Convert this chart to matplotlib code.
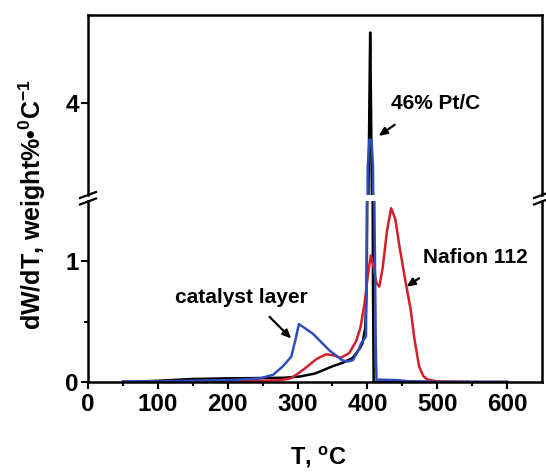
import matplotlib
matplotlib.use("Agg")
import matplotlib.pyplot as plt
from matplotlib.lines import Line2D
from matplotlib.ticker import FixedLocator

plt.rcParams["font.family"] = ["Liberation Sans", "DejaVu Sans"]
plt.rcParams["font.weight"] = "bold"
plt.rcParams["mathtext.fontset"] = "custom"
plt.rcParams["mathtext.rm"] = "Liberation Sans:bold"
plt.rcParams["mathtext.bf"] = "Liberation Sans:bold"
plt.rcParams["mathtext.default"] = "rm"

# --- data (T in degC, dW/dT in weight%/degC) ---
pt_T = [50, 100, 150, 200, 250, 280, 303, 325, 350, 365, 379, 388, 393, 397, 399,
        401, 403, 404, 405, 407, 408, 409, 420, 450, 500, 550, 600]
pt_v = [0.0, 0.01, 0.025, 0.03, 0.033, 0.035, 0.045, 0.07, 0.13, 0.16, 0.2, 0.27, 0.32,
        0.45, 0.8, 2.6, 4.1, 4.76, 4.1, 2.6, 0.8, 0.0, 0.005, 0.005, 0.0, 0.0, 0.0]

cl_T = [50, 100, 150, 200, 246, 265, 279, 291, 297, 302, 322, 346, 364, 372, 379, 386,
        391, 396, 398, 399, 400.5, 403, 406, 408, 410, 412, 413, 445, 460, 500, 550, 600]
cl_v = [0.005, 0.005, 0.01, 0.015, 0.03, 0.06, 0.13, 0.21, 0.35, 0.48, 0.40, 0.26, 0.18,
        0.17, 0.18, 0.25, 0.32, 0.36, 0.38, 1.0, 3.3, 3.6, 3.6, 3.3, 1.5, 0.3, 0.02,
        0.015, 0.005, 0.0, 0.0, 0.0]

nf_T = [50, 150, 200, 250, 274, 290, 298, 310, 327, 341, 352, 362, 374, 384, 390, 396,
        401, 405, 409, 413, 417, 422, 428, 434, 440, 446, 455, 462, 467, 474, 480, 486,
        500, 550, 600]
nf_v = [0.0, 0.005, 0.01, 0.01, 0.015, 0.03, 0.06, 0.11, 0.19, 0.23, 0.22, 0.2, 0.24,
        0.34, 0.45, 0.65, 0.9, 1.05, 0.95, 0.82, 0.79, 0.95, 1.25, 1.44, 1.35, 1.12, 0.82,
        0.6, 0.37, 0.13, 0.05, 0.02, 0.005, 0.0, 0.0]

x_ticks = [0, 100, 200, 300, 400, 500, 600]

BLUE = "#2d4fbe"
RED = "#d21f2a"

fig = plt.figure(figsize=(5.46, 4.72), dpi=100)
W, H = 546.0, 472.0
left, right = 88 / W, 542 / W
ax_lo = fig.add_axes([left, 1 - 382 / H, right - left, (382 - 201) / H])
ax_hi = fig.add_axes([left, 1 - 195 / H, right - left, (195 - 15) / H], sharex=ax_lo)

for ax in (ax_lo, ax_hi):
    ax.plot(pt_T, pt_v, color="black", lw=1.8)
    ax.plot(nf_T, nf_v, color=RED, lw=1.8)
    ax.plot(cl_T, cl_v, color=BLUE, lw=1.8)
    for s in ax.spines.values():
        s.set_linewidth(1.8)

ax_lo.set_xlim(0, 650)
ax_lo.set_ylim(0, 1.5)
ax_hi.set_ylim(3.0, 4.95)

ax_lo.spines["top"].set_visible(False)
ax_hi.spines["bottom"].set_visible(False)

ax_lo.xaxis.set_major_locator(FixedLocator(x_ticks))
ax_lo.xaxis.set_minor_locator(FixedLocator([50, 150, 250, 350, 450, 550]))
ax_lo.yaxis.set_major_locator(FixedLocator([0, 1]))
ax_lo.yaxis.set_minor_locator(FixedLocator([0.5]))
ax_hi.yaxis.set_major_locator(FixedLocator([4]))

ax_lo.tick_params(axis="both", which="major", direction="out", length=5, width=1.5,
                  labelsize=17.5, top=False, right=False)
ax_lo.tick_params(axis="x", which="major", pad=3)
ax_lo.tick_params(axis="y", which="major", pad=1.5)
ax_lo.tick_params(axis="both", which="minor", direction="out", length=3, width=1.5)
ax_hi.tick_params(axis="y", which="major", direction="out", length=5, width=1.5,
                  labelsize=17.5, pad=1.5)
ax_hi.tick_params(axis="x", which="both", bottom=False, labelbottom=False)

# break marks on both spines
for xp in (88, 542):
    for yp in (195, 201.5):
        fig.add_artist(Line2D([(xp - 8) / W, (xp + 8) / W],
                              [1 - (yp + 3) / H, 1 - (yp - 3) / H],
                              transform=fig.transFigure, color="black", lw=1.6))

# labels
fig.text(32 / W, 1 - 205 / H, r"dW/dT, weight%•$^{0}$C$^{-1}$", rotation=90,
         ha="center", va="center", fontsize=18, fontweight="bold")
fig.text(318 / W, 1 - 457 / H, r"T, $^{o}$C", ha="center", va="center",
         fontsize=17, fontweight="bold")

# annotations
arrow = dict(arrowstyle="-|>,head_length=0.5,head_width=0.22",
             color="black", lw=1.6, shrinkA=0, shrinkB=0)
ax_hi.text(497, 3.99, "46% Pt/C", ha="center", va="center", fontsize=15, fontweight="bold")
ax_hi.annotate("", xy=(416, 3.64), xytext=(439, 3.76), arrowprops=arrow)
ax_lo.text(554, 1.03, "Nafion 112", ha="center", va="center", fontsize=15, fontweight="bold")
ax_lo.annotate("", xy=(456, 0.79), xytext=(474, 0.86), arrowprops=arrow)
ax_lo.text(219, 0.70, "catalyst layer", ha="center", va="center", fontsize=15,
           fontweight="bold")
ax_lo.annotate("", xy=(291, 0.36), xytext=(260, 0.54), arrowprops=arrow)

fig.savefig("out.png", dpi=100)
